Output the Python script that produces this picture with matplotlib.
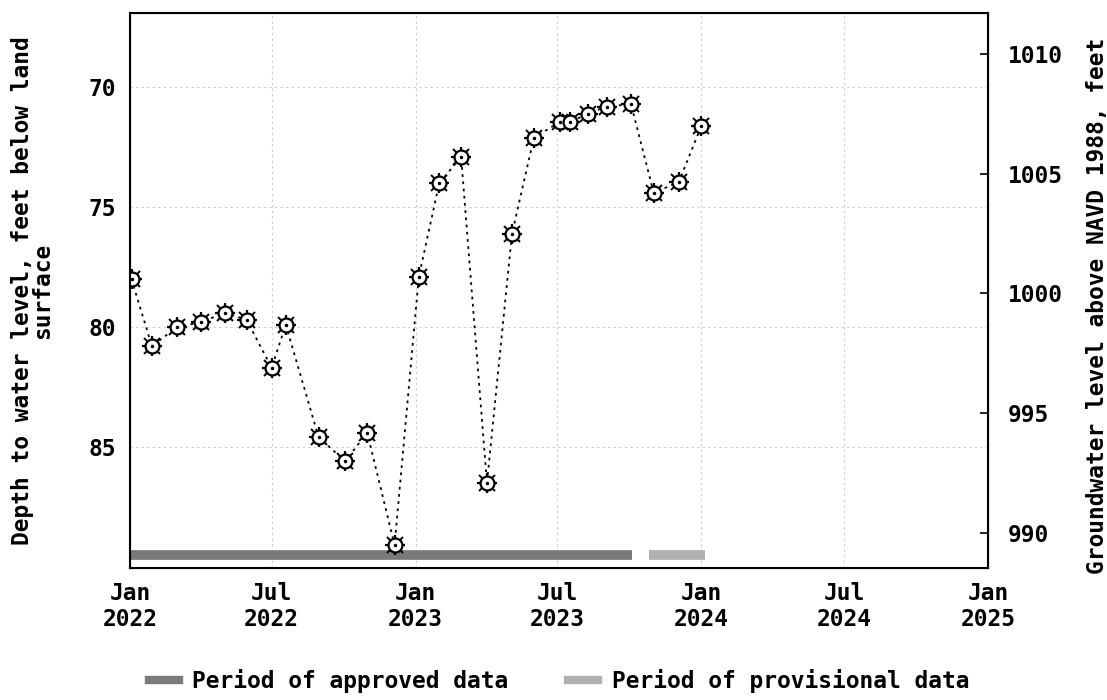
import matplotlib
matplotlib.use("Agg")
import matplotlib.pyplot as plt
import numpy as np
from matplotlib.lines import Line2D

# Ölçüm tarihleri ve derinlikler (ft, arazi yüzeyinin altında)
dates = np.array([
    "2022-01-03", "2022-01-29", "2022-03-02", "2022-04-02", "2022-05-02",
    "2022-05-30", "2022-07-01", "2022-07-19", "2022-08-30", "2022-10-03",
    "2022-10-31", "2022-12-05", "2023-01-05", "2023-01-31", "2023-02-28",
    "2023-04-02", "2023-05-04", "2023-06-01", "2023-07-04", "2023-07-17",
    "2023-08-09", "2023-09-02", "2023-10-03", "2023-11-01", "2023-12-03",
    "2024-01-01",
], dtype="datetime64[D]")
depth = [
    78.0, 80.8, 80.0, 79.8, 79.4,
    79.7, 81.7, 79.9, 84.6, 85.6,
    84.4, 89.1, 77.9, 74.0, 72.9,
    86.5, 76.1, 72.1, 71.45, 71.45,
    71.1, 70.8, 70.7, 74.4, 73.95,
    71.6,
]

land_surface = 1078.6  # NAVD 1988

approved_period = np.array(["2022-01-01", "2023-10-04"], dtype="datetime64[D]")
provisional_period = np.array(["2023-10-26", "2024-01-05"], dtype="datetime64[D]")
bar_depth = 89.5

left_ticks = [70, 75, 80, 85]
right_ticks = [990, 995, 1000, 1005, 1010]
x_ticks = np.array(["2022-01-01", "2022-07-01", "2023-01-01", "2023-07-01",
                    "2024-01-01", "2024-07-01", "2025-01-01"], dtype="datetime64[D]")
x_labels = ["Jan\n2022", "Jul\n2022", "Jan\n2023", "Jul\n2023",
            "Jan\n2024", "Jul\n2024", "Jan\n2025"]

plt.rcParams["font.family"] = "DejaVu Sans Mono"
plt.rcParams["font.weight"] = "bold"
plt.rcParams["axes.labelweight"] = "bold"
fs = 16.5

fig = plt.figure(figsize=(11.07, 7), dpi=100)
ax = fig.add_axes([0.1174, 0.1886, 0.7751, 0.7928])

d = dates.astype("datetime64[ms]").astype(object)
ax.plot(d, depth, linestyle=(0, (1.5, 2.5)), color="black", linewidth=1.3, zorder=3)
# dişli daire işaretleri
ax.plot(d, depth, linestyle="none", marker="+", markersize=14, markeredgewidth=1.6,
        color="black", zorder=4)
ax.plot(d, depth, linestyle="none", marker="x", markersize=11, markeredgewidth=1.4,
        color="black", zorder=4)
ax.plot(d, depth, linestyle="none", marker="o", markersize=10, markeredgewidth=1.6,
        markerfacecolor="white", markeredgecolor="black", zorder=5)
ax.plot(d, depth, linestyle="none", marker=".", markersize=3, color="black", zorder=6)

ax.hlines(bar_depth, approved_period[0].astype(object), approved_period[1].astype(object),
          color="#7a7a7a", linewidth=7, zorder=2)
ax.hlines(bar_depth, provisional_period[0].astype(object), provisional_period[1].astype(object),
          color="#b0b0b0", linewidth=7, zorder=2)

ax.set_xlim(x_ticks[0].astype(object), x_ticks[-1].astype(object))
ax.set_ylim(90.05, 66.9)
ax.set_yticks(left_ticks)
ax.set_yticklabels([str(t) for t in left_ticks], fontsize=fs)
ax.set_xticks([t.astype(object) for t in x_ticks])
ax.set_xticklabels(x_labels, fontsize=fs, linespacing=1.2)
ax.tick_params(axis="both", length=0, pad=10)
ax.grid(True, color="#cccccc", linestyle=(0, (2, 3)), linewidth=0.8)
for s in ax.spines.values():
    s.set_linewidth(1.5)

ax.set_ylabel("Depth to water level, feet below land\nsurface", fontsize=fs,
              linespacing=0.85)
ax.yaxis.set_label_coords(-0.088, 0.5)

ax2 = ax.twinx()
lo, hi = ax.get_ylim()
ax2.set_ylim(land_surface - lo, land_surface - hi)
ax2.set_yticks(right_ticks)
ax2.set_yticklabels([str(t) for t in right_ticks], fontsize=fs)
ax2.tick_params(axis="y", direction="in", length=6, width=1.2, pad=14)
ax2.set_ylabel("Groundwater level above NAVD 1988, feet", fontsize=fs)
ax2.yaxis.set_label_coords(1.114, 0.472)

handles = [Line2D([], [], color="#7a7a7a", linewidth=6),
           Line2D([], [], color="#b0b0b0", linewidth=6)]
fig.legend(handles, ["Period of approved data", "Period of provisional data"],
           loc="center", bbox_to_anchor=(0.505, 0.027), ncol=2, frameon=False,
           fontsize=fs, handlelength=1.3, handletextpad=0.6, columnspacing=2.6)

fig.savefig("out.png", dpi=100)
